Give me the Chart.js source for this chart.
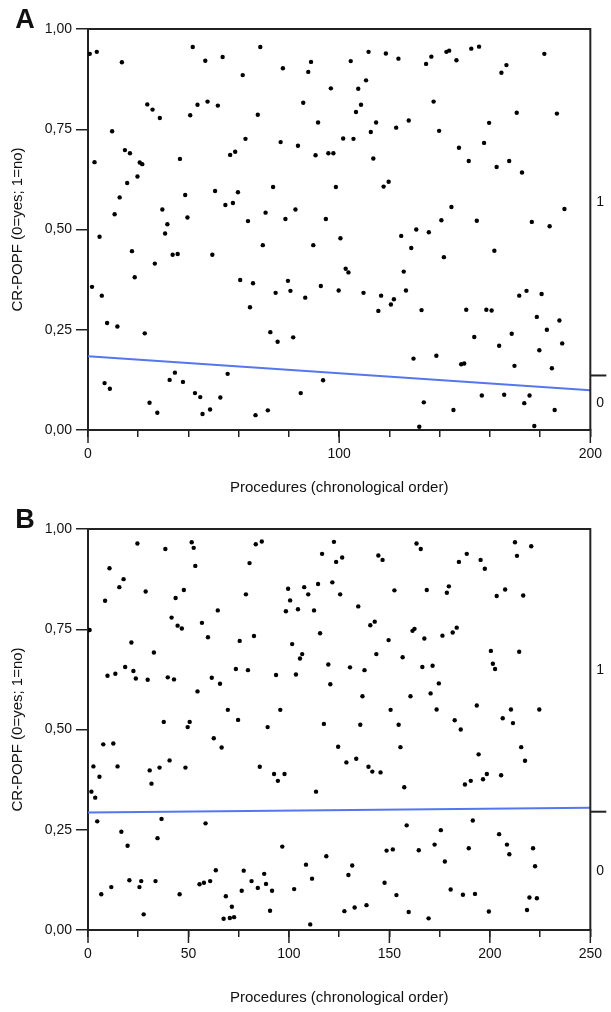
<!DOCTYPE html>
<html>
<head>
<meta charset="utf-8">
<script src="https://cdn.jsdelivr.net/npm/chart.js@4.4.1/dist/chart.umd.min.js"></script>
<style>
  html, body { margin: 0; padding: 0; background: #fff; }
  #wrap { position: relative; width: 611px; height: 1012px; overflow: hidden; }
  canvas { position: absolute; left: 0; }
  #cA { top: 0; }
  #cB { top: 500px; }
</style>
</head>
<body>
<div id="wrap">
  <canvas id="cA" width="611" height="500"></canvas>
  <canvas id="cB" width="611" height="512"></canvas>
</div>
<script>
// Panel A: procedure number and jittered CR-POPF outcome
var procA = [0.7,3.5,13.5,41.7,46.7,53.6,61.6,68.6,77.6,88.8,87.7,96.7,23.6,25.7,28.6,40.7,43.6,47.6,51.7,67.6,85.7,91.6,9.6,14.7,16.7,2.6,20.6,21.6,36.6,56.6,58.6,62.7,76.7,83.6,90.6,95.7,97.7,15.6,19.7,12.6,38.7,50.6,59.7,54.7,57.7,73.7,98.7,29.6,70.7,82.6,10.6,
  104.6,111.7,118.6,123.6,134.6,136.7,142.7,143.8,146.7,152.6,155.7,164.6,166.6,181.7,110.7,107.6,108.7,106.7,137.6,170.7,186.7,114.7,112.6,122.7,127.7,139.8,159.7,101.6,105.7,147.7,157.7,113.6,151.6,162.7,167.7,172.8,117.7,119.7,144.7,189.7,
  39.6,31.6,30.7,4.6,63.7,78.6,94.7,100.5,17.5,33.7,35.7,49.5,69.6,89.7,26.6,18.6,1.6,5.5,60.6,65.7,79.6,80.6,74.7,86.5,92.7,99.8,64.5,7.6,11.7,22.6,72.6,75.5,81.7,34.6,32.5,37.8,55.6,6.6,8.7,42.6,44.7,52.7,93.6,84.7,24.5,48.6,27.6,45.6,66.7,71.6,
  140.7,154.8,176.7,183.8,124.7,130.7,135.7,128.7,161.8,141.7,102.6,103.7,125.7,109.7,116.7,121.8,120.6,115.6,126.6,132.8,150.6,158.6,160.7,171.7,174.6,180.6,178.7,187.7,182.7,153.8,168.7,163.7,188.8,179.7,129.6,138.7,148.6,149.8,169.8,184.7,156.8,165.7,175.8,133.7,173.7,145.5,185.8,131.9,177.7];
var popfA = [0.938,0.943,0.917,0.955,0.921,0.930,0.885,0.955,0.902,0.918,0.893,0.852,0.812,0.799,0.778,0.785,0.811,0.819,0.809,0.786,0.816,0.767,0.745,0.698,0.690,0.668,0.667,0.663,0.676,0.686,0.694,0.726,0.718,0.709,0.685,0.690,0.690,0.616,0.632,0.580,0.586,0.596,0.593,0.561,0.566,0.606,0.606,0.550,0.542,0.550,0.538,
  0.920,0.943,0.939,0.926,0.913,0.931,0.943,0.946,0.922,0.951,0.956,0.891,0.910,0.938,0.872,0.851,0.811,0.793,0.819,0.791,0.789,0.767,0.743,0.754,0.772,0.746,0.766,0.727,0.726,0.704,0.716,0.677,0.671,0.656,0.671,0.642,0.607,0.619,0.556,0.551,
  0.530,0.513,0.490,0.482,0.521,0.526,0.526,0.478,0.446,0.437,0.439,0.437,0.461,0.461,0.415,0.381,0.357,0.335,0.374,0.366,0.372,0.347,0.342,0.330,0.359,0.348,0.306,0.267,0.258,0.241,0.244,0.220,0.231,0.143,0.125,0.120,0.140,0.117,0.103,0.092,0.082,0.081,0.124,0.092,0.068,0.051,0.043,0.040,0.037,0.049,
  0.523,0.522,0.519,0.508,0.484,0.500,0.493,0.454,0.447,0.431,0.402,0.393,0.395,0.342,0.335,0.326,0.313,0.297,0.348,0.299,0.300,0.300,0.298,0.335,0.347,0.339,0.282,0.273,0.250,0.232,0.240,0.210,0.216,0.199,0.178,0.185,0.164,0.166,0.160,0.154,0.086,0.088,0.086,0.069,0.067,0.050,0.050,0.008,0.010];
var fitXA = [0, 200];
var fitYA = [0.184, 0.099];

// Panel B
var procB = [24.6,38.5,51.6,52.6,53.4,83.5,86.5,80.4,122.4,116.5,123.5,126.5,10.7,17.7,15.6,28.7,8.5,47.7,43.6,78.6,99.6,107.6,114.5,121.6,109.6,100.6,125.5,64.6,98.5,104.5,112.5,41.6,44.6,46.7,56.7,0.8,59.7,75.5,82.6,115.5,21.6,32.8,101.6,106.6,105.5,119.6,18.5,22.6,9.7,13.6,23.8,29.7,39.7,42.8,61.6,65.7,73.6,79.6,93.6,103.5,120.6,54.5,69.6,95.7,74.7,37.7,50.6,117.4,
  163.5,165.6,212.5,220.6,144.5,146.6,188.5,184.6,195.4,197.5,213.5,152.5,168.6,179.6,178.6,203.4,207.6,216.6,134.5,140.5,142.7,161.5,162.5,149.6,167.4,176.4,181.5,183.5,143.5,156.6,200.5,214.6,201.5,202.6,130.4,137.6,166.4,171.5,174.6,136.6,160.5,170.5,150.6,173.5,193.5,210.5,224.6,206.4,211.5,182.5,154.6,135.5,
  49.6,89.4,7.6,12.6,62.6,66.5,124.5,2.7,14.7,5.7,30.7,31.6,35.6,40.6,48.5,85.5,92.6,94.5,97.8,113.5,1.7,3.6,4.6,36.6,58.5,16.6,34.6,19.7,96.7,118.6,108.5,63.6,77.5,87.7,111.5,20.6,26.5,33.6,25.6,55.5,57.7,60.8,81.4,84.5,88.6,91.6,76.5,11.6,6.6,45.6,102.6,68.6,71.6,90.6,27.7,67.5,70.6,72.7,
  185.5,155.5,128.6,133.5,139.6,141.5,145.6,157.4,194.4,187.6,190.5,196.6,198.5,205.6,215.6,217.5,191.5,158.6,175.6,204.6,208.5,209.7,148.6,151.7,164.6,172.5,189.5,177.6,221.5,222.5,131.5,129.6,147.6,153.5,180.5,186.6,192.6,219.7,223.4,127.6,132.7,138.6,159.6,169.5,199.5,218.5,110.6];
var popfB = [0.964,0.950,0.967,0.953,0.908,0.962,0.969,0.915,0.968,0.938,0.918,0.929,0.902,0.875,0.855,0.844,0.821,0.848,0.828,0.837,0.851,0.855,0.863,0.867,0.837,0.822,0.837,0.797,0.795,0.800,0.797,0.779,0.759,0.752,0.766,0.748,0.730,0.721,0.733,0.740,0.717,0.692,0.713,0.688,0.677,0.662,0.656,0.646,0.634,0.639,0.627,0.624,0.630,0.625,0.629,0.614,0.651,0.648,0.636,0.637,0.613,0.595,0.549,0.549,0.524,0.519,0.519,0.514,
  0.964,0.950,0.967,0.957,0.934,0.923,0.938,0.918,0.923,0.901,0.933,0.847,0.848,0.857,0.841,0.833,0.849,0.834,0.807,0.760,0.769,0.746,0.751,0.723,0.727,0.734,0.742,0.754,0.688,0.680,0.696,0.694,0.664,0.651,0.655,0.648,0.656,0.659,0.615,0.583,0.583,0.590,0.549,0.550,0.560,0.550,0.550,0.528,0.516,0.523,0.512,0.512,
  0.506,0.506,0.463,0.465,0.478,0.455,0.457,0.408,0.408,0.382,0.398,0.365,0.405,0.423,0.405,0.407,0.389,0.372,0.389,0.345,0.345,0.330,0.271,0.277,0.266,0.245,0.229,0.210,0.208,0.184,0.163,0.149,0.148,0.140,0.128,0.124,0.122,0.122,0.107,0.114,0.118,0.122,0.122,0.105,0.115,0.098,0.098,0.107,0.089,0.089,0.102,0.084,0.058,0.048,0.039,0.028,0.030,0.032,
  0.500,0.456,0.418,0.427,0.407,0.395,0.393,0.356,0.438,0.363,0.372,0.376,0.389,0.386,0.456,0.422,0.273,0.261,0.249,0.239,0.213,0.189,0.198,0.201,0.199,0.213,0.204,0.171,0.204,0.159,0.161,0.137,0.118,0.087,0.101,0.088,0.090,0.081,0.079,0.047,0.056,0.062,0.045,0.029,0.046,0.050,0.014];
var fitXB = [0, 250];
var fitYB = [0.293, 0.305];

// right-hand category split (share of 0 vs 1)
var splitA = 0.136;
var splitB = 0.295;

var yTicks = [0, 0.25, 0.5, 0.75, 1];

Chart.defaults.font.family = '"Liberation Sans", Arial, Helvetica, sans-serif';
Chart.defaults.color = '#111';

function panelDeco(letter, split, labelStep) {
  return {
    id: 'deco' + letter,
    afterDraw: function(chart) {
      var ctx = chart.ctx, a = chart.chartArea;
      var xs = chart.scales.x, ys = chart.scales.y;
      ctx.save();
      ctx.strokeStyle = '#222';
      ctx.lineWidth = 2;
      // frame top + right
      ctx.beginPath();
      ctx.moveTo(a.left, a.top);
      ctx.lineTo(a.right, a.top);
      ctx.lineTo(a.right, a.bottom);
      ctx.stroke();
      // longer ticks at labelled x values
      ctx.lineWidth = 1.5;
      xs.ticks.forEach(function(t) {
        if (t.value % labelStep === 0) {
          var px = xs.getPixelForValue(t.value);
          ctx.beginPath();
          ctx.moveTo(px, a.bottom);
          ctx.lineTo(px, a.bottom + 13);
          ctx.stroke();
        }
      });
      // right category axis (cut off by the page edge)
      var sy = ys.getPixelForValue(split);
      ctx.lineWidth = 2;
      ctx.beginPath();
      ctx.moveTo(a.right, sy);
      ctx.lineTo(a.right + 16, sy);
      ctx.stroke();
      ctx.fillStyle = '#111';
      ctx.font = '14px "Liberation Sans", Arial, sans-serif';
      ctx.textAlign = 'left';
      ctx.textBaseline = 'middle';
      ctx.fillText('1', a.right + 6, ys.getPixelForValue((split + 1) / 2));
      ctx.fillText('0', a.right + 6, ys.getPixelForValue(split / 2));
      // panel letter
      ctx.font = 'bold 27px "Liberation Sans", Arial, sans-serif';
      ctx.textAlign = 'center';
      ctx.fillText(letter, 25, 21);
      ctx.restore();
    }
  };
}

function makePanel(id, letter, xs, ys, fitX, fitY, xMax, xStep, labelStep, split, axisH, titlePad) {
  var pts = xs.map(function(x, i) { return {x: x, y: ys[i]}; });
  var fit = fitX.map(function(x, i) { return {x: x, y: fitY[i]}; });
  return new Chart(document.getElementById(id), {
    type: 'scatter',
    data: {
      datasets: [
        {
          data: pts,
          pointRadius: 2.2,
          pointBackgroundColor: '#000',
          pointBorderWidth: 0,
          order: 1
        },
        {
          data: fit,
          showLine: true,
          borderColor: 'rgb(86,118,238)',
          borderWidth: 2,
          pointRadius: 0,
          order: 2
        }
      ]
    },
    options: {
      responsive: false,
      animation: false,
      devicePixelRatio: 1,
      layout: { padding: { top: 29, right: 14, left: 0, bottom: 0 } },
      plugins: { legend: { display: false }, tooltip: { enabled: false } },
      scales: {
        x: {
          type: 'linear', min: 0, max: xMax,
          ticks: {
            stepSize: xStep, autoSkip: false, maxRotation: 0, padding: 9,
            font: { size: 14 },
            callback: function(v) { return v % labelStep === 0 ? String(v) : ''; }
          },
          grid: { drawOnChartArea: false, drawTicks: true, tickLength: 7, color: '#222', lineWidth: 1.5 },
          border: { display: true, color: '#222', width: 2 },
          title: { display: true, text: 'Procedures (chronological order)', font: { size: 15 }, padding: { top: 0, bottom: titlePad } },
          afterFit: function(s) { s.height = axisH; }
        },
        y: {
          type: 'linear', min: 0, max: 1,
          afterBuildTicks: function(s) { s.ticks = yTicks.map(function(v) { return {value: v}; }); },
          ticks: {
            padding: 4, font: { size: 14 },
            callback: function(v) { return v.toFixed(2).replace('.', ','); }
          },
          grid: { drawOnChartArea: false, drawTicks: true, tickLength: 12, color: '#222', lineWidth: 1.5 },
          border: { display: true, color: '#222', width: 2 },
          title: { display: true, text: 'CR-POPF (0=yes; 1=no)', font: { size: 15 }, padding: { top: 9, bottom: 0 } },
          afterFit: function(s) { s.width = 88; }
        }
      }
    },
    plugins: [panelDeco(letter, split, labelStep)]
  });
}

makePanel('cA', 'A', procA, popfA, fitXA, fitYA, 200, 20, 100, splitA, 70, 3);
makePanel('cB', 'B', procB, popfB, fitXB, fitYB, 250, 25, 50, splitB, 82, 5);
</script>
</body>
</html>
